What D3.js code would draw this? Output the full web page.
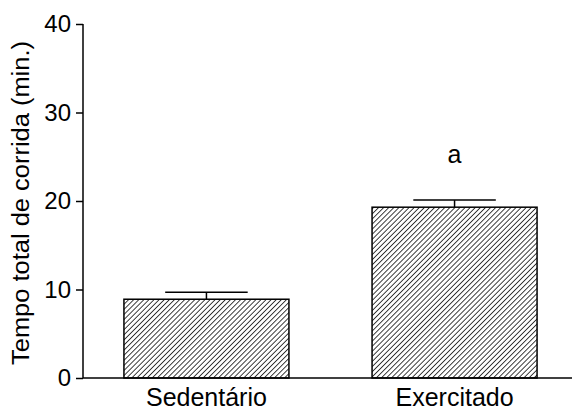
<!DOCTYPE html>
<html>
<head>
<meta charset="utf-8">
<script src="https://cdn.jsdelivr.net/npm/d3@7"></script>
<style>
  html, body { margin: 0; padding: 0; background: #fff; }
  text { font-family: "Liberation Sans", Arial, sans-serif; fill: #000; }
</style>
</head>
<body>
<div class="svgContainer"></div>
<script>
const groups = ['Sedentário', 'Exercitado'];
const means = [8.9, 19.3];
const errors = [0.8, 0.8];
const marks = ['', 'a'];
const yTicks = [0, 10, 20, 30, 40];

const width = 572;
const height = 412;
const marginLeft = 83;
const plotTop = 24;
const plotBottom = 378;

const svg = d3.select('.svgContainer').append('svg')
  .attr('width', width)
  .attr('height', height);

// hatch fill
svg.append('defs').append('pattern')
  .attr('id', 'hatch')
  .attr('patternUnits', 'userSpaceOnUse')
  .attr('width', 3.6)
  .attr('height', 3.6)
  .attr('patternTransform', 'rotate(45)')
  .append('line')
  .attr('x1', 0).attr('y1', 0)
  .attr('x2', 0).attr('y2', 3.6)
  .attr('stroke', '#000')
  .attr('stroke-width', 1.5);

const scaleX = d3.scaleBand()
  .domain(groups)
  .range([marginLeft, 578])
  .paddingInner(0.335)
  .paddingOuter(0.165);

const scaleY = d3.scaleLinear()
  .domain([0, 40])
  .range([plotBottom, plotTop]);

// bars
const g = svg.append('g');

g.selectAll('rect.bar')
  .data(groups)
  .enter()
  .append('rect')
  .attr('class', 'bar')
  .attr('x', d => scaleX(d))
  .attr('y', (d, i) => scaleY(means[i]))
  .attr('width', scaleX.bandwidth())
  .attr('height', (d, i) => plotBottom - scaleY(means[i]))
  .attr('fill', 'url(#hatch)')
  .attr('stroke', '#000')
  .attr('stroke-width', 1.5);

// error bars
const capHalf = scaleX.bandwidth() * 0.25;
groups.forEach((d, i) => {
  const cx = scaleX(d) + scaleX.bandwidth() / 2;
  g.append('line')
    .attr('x1', cx).attr('x2', cx)
    .attr('y1', scaleY(means[i]))
    .attr('y2', scaleY(means[i] + errors[i]))
    .attr('stroke', '#000').attr('stroke-width', 1.5);
  g.append('line')
    .attr('x1', cx - capHalf).attr('x2', cx + capHalf)
    .attr('y1', scaleY(means[i] + errors[i]))
    .attr('y2', scaleY(means[i] + errors[i]))
    .attr('stroke', '#000').attr('stroke-width', 1.5);
  if (marks[i]) {
    g.append('text')
      .attr('x', cx)
      .attr('y', 163)
      .attr('text-anchor', 'middle')
      .style('font-size', '25px')
      .text(marks[i]);
  }
});

// y axis
const yAxis = d3.axisLeft(scaleY)
  .tickValues(yTicks)
  .tickSize(7)
  .tickPadding(5);

svg.append('g')
  .attr('class', 'y-axis')
  .attr('transform', 'translate(' + marginLeft + ',0)')
  .call(yAxis)
  .call(s => s.select('.domain').attr('d', 'M0,' + plotTop + 'V' + plotBottom))
  .call(s => s.selectAll('line, path').attr('stroke', '#000').attr('stroke-width', 1.5))
  .call(s => s.selectAll('text')
    .style('font-size', '24px')
    .style('font-family', '"Liberation Sans", Arial, sans-serif')
    .attr('fill', '#000'));

// x axis
const xAxis = d3.axisBottom(scaleX)
  .tickSize(0)
  .tickPadding(10);

svg.append('g')
  .attr('class', 'x-axis')
  .attr('transform', 'translate(0,' + plotBottom + ')')
  .call(xAxis)
  .call(s => s.select('.domain').attr('d', 'M' + marginLeft + ',0H' + width)
    .attr('stroke', '#000').attr('stroke-width', 1.5))
  .call(s => s.selectAll('text')
    .style('font-size', '25px')
    .style('font-family', '"Liberation Sans", Arial, sans-serif')
    .attr('fill', '#000'));

// y title
svg.append('text')
  .attr('transform', 'translate(29,203) rotate(-90)')
  .attr('text-anchor', 'middle')
  .attr('textLength', 324)
  .attr('lengthAdjust', 'spacingAndGlyphs')
  .style('font-size', '23px')
  .text('Tempo total de corrida (min.)');
</script>
</body>
</html>
